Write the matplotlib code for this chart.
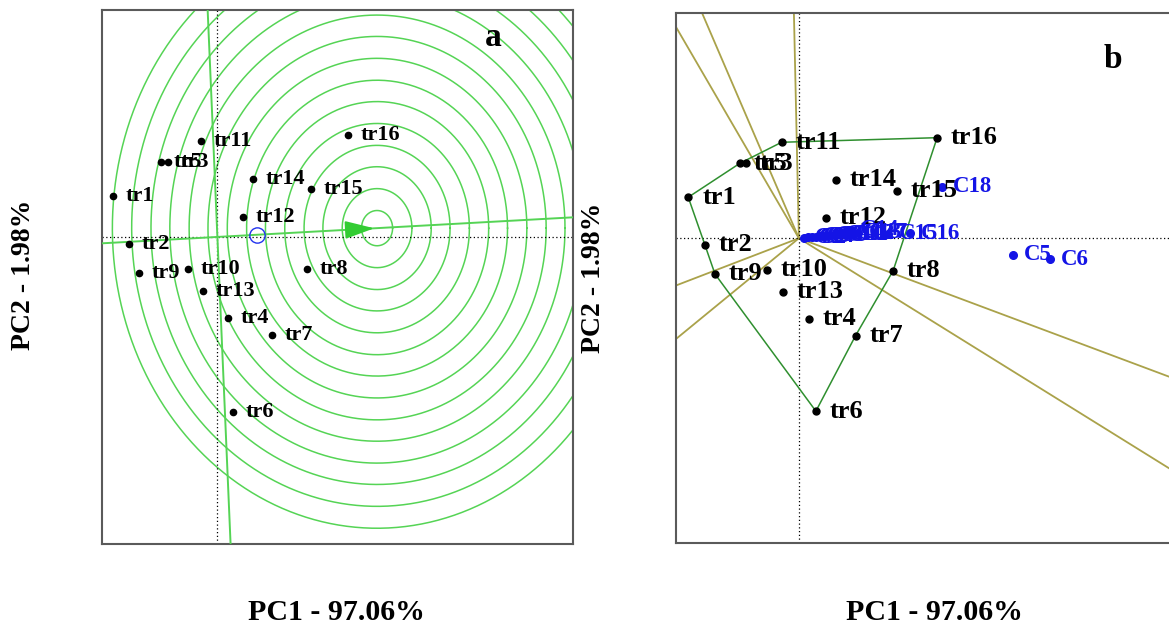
import numpy as np
import matplotlib.pyplot as plt

plt.rcParams['font.family'] = ['Liberation Serif', 'DejaVu Serif']
plt.rcParams['font.weight'] = 'bold'

# genotype scores
genotypes = ['tr1', 'tr2', 'tr3', 'tr4', 'tr5', 'tr6', 'tr7', 'tr8',
             'tr9', 'tr10', 'tr11', 'tr12', 'tr13', 'tr14', 'tr15', 'tr16']
pc1_a = [-22.12, -18.79, -10.45, 2.17, -12.0, 3.35, 11.51, 18.94,
         -16.67, -6.33, -3.57, 5.48, -3.01, 7.60, 19.79, 27.77]
pc2_a = [7.73, -1.37, 14.10, -15.22, 14.10, -32.72, -18.35, -6.05,
         -6.80, -5.99, 18.03, 3.80, -10.06, 10.92, 8.93, 19.10]
pc1_b = [-23.50, -19.96, -11.25, 2.12, -12.53, 3.61, 12.04, 20.02,
         -17.83, -6.73, -3.67, 5.73, -3.46, 7.86, 20.74, 29.36]
pc2_b = [7.68, -1.25, 14.04, -15.11, 14.04, -32.40, -18.24, -6.07,
         -6.69, -5.94, 17.98, 3.86, -10.0, 10.92, 8.86, 18.84]

# environments (panel b)
envs = ['C1', 'C2', 'C3', 'C4', 'C5', 'C6', 'C7', 'C8', 'C9',
        'C10', 'C11', 'C12', 'C13', 'C14', 'C15', 'C16', 'C17', 'C18']
env_pc1 = [1.06, 1.91, 2.76, 3.61, 45.50, 53.29, 4.46, 5.52, 6.58,
           7.64, 8.70, 9.77, 11.25, 10.62, 18.90, 23.57, 12.53, 30.30]
env_pc2 = [0.09, 0.15, 0.24, 0.28, -3.13, -3.93, 0.34, 0.43, 0.52,
           0.62, 0.71, 0.81, 0.99, 1.55, 0.81, 0.94, 0.99, 9.66]

# panel a: average environment, ideal genotype and rings
avg_env = (8.45, 0.37)
ideal = (33.9, 1.65)
ring_radii = [3.3, 7.4, 11.5, 15.5, 19.6, 23.7, 27.7, 31.8,
              35.9, 39.9, 44.0, 48.0, 52.1, 56.2]

# panel b: polygon vertices and sector rays
hull = ['tr1', 'tr5', 'tr11', 'tr16', 'tr8', 'tr7', 'tr6', 'tr9', 'tr2']
ray_x = [-25.97, -20.53, -1.06, -26.33, -26.33, 78.56, 78.56]
ray_y = [39.38, 42.13, 42.19, -8.93, -19.04, -25.92, -43.07]

xlim_a, ylim_a = (-24.5, 75.5), (-57.5, 42.5)
xlim_b, ylim_b = (-26.1, 82.0), (-57.1, 42.2)

green = '#55d455'
W, H = 1169, 629
fig = plt.figure(figsize=(W / 100, H / 100), dpi=100)
ax_a = fig.add_axes([102 / W, 1 - 544 / H, 471 / W, 534 / H])
ax_b = fig.add_axes([676 / W, 1 - 543 / H, 509 / W, 530 / H])

for ax, xl, yl in [(ax_a, xlim_a, ylim_a), (ax_b, xlim_b, ylim_b)]:
    ax.set_xlim(xl)
    ax.set_ylim(yl)
    ax.set_xticks([])
    ax.set_yticks([])
    for s in ax.spines.values():
        s.set_color('#5a5a5a')
        s.set_linewidth(1.5)
    ax.axhline(0, color='black', ls=(0, (1, 2)), lw=0.9, zorder=2)
    ax.axvline(0, color='black', ls=(0, (1, 2)), lw=0.9, zorder=2)

# ---- panel a ----
t = np.linspace(0, 2 * np.pi, 400)
for r in ring_radii:
    ax_a.plot(ideal[0] + r * np.cos(t), ideal[1] + r * np.sin(t),
              color=green, lw=1.1, zorder=1)
slope = ideal[1] / ideal[0]
xs = np.array(xlim_a)
ax_a.plot(xs, slope * xs, color=green, lw=1.4, zorder=3)
tt = np.array([-200, 200])
ax_a.plot(-ideal[1] * tt / 10, ideal[0] * tt / 10, color=green, lw=1.4, zorder=3)
ax_a.annotate('', xy=ideal, xytext=(ideal[0] - 6, ideal[1] - 6 * slope),
              arrowprops=dict(arrowstyle='-|>,head_length=1.8,head_width=0.55',
                              color='#33cc33', lw=1.4), zorder=4)
ax_a.plot(*avg_env, 'o', mfc='none', mec='#2233ee', ms=11, mew=1.0, zorder=4)

ax_a.plot(pc1_a, pc2_a, 'o', color='black', ms=4.5, zorder=5)
for g, x, y in zip(genotypes, pc1_a, pc2_a):
    ax_a.annotate(g, (x, y), xytext=(9, 0), textcoords='offset points',
                  va='center', ha='left', fontsize=16, zorder=6)
ax_a.text(493, H - 38, 'a', transform=None, fontsize=24,
          ha='center', va='center')

# ---- panel b ----
for x, y in zip(ray_x, ray_y):
    ax_b.plot([0, x * 1.2], [0, y * 1.2], color='#aaa24a', lw=1.3, zorder=1)
idx = [genotypes.index(g) for g in hull] + [genotypes.index(hull[0])]
ax_b.plot([pc1_b[i] for i in idx], [pc2_b[i] for i in idx],
          color='#2f8f2f', lw=1.1, zorder=3)

ax_b.plot(pc1_b, pc2_b, 'o', color='black', ms=5, zorder=5)
for g, x, y in zip(genotypes, pc1_b, pc2_b):
    ax_b.annotate(g, (x, y), xytext=(10, 0), textcoords='offset points',
                  va='center', ha='left', fontsize=19, zorder=6)

blue = '#1414e6'
ax_b.plot(env_pc1, env_pc2, 'o', color=blue, ms=5.5, zorder=5)
for e, x, y in zip(envs, env_pc1, env_pc2):
    ax_b.annotate(e, (x, y), xytext=(8, 0), textcoords='offset points',
                  va='center', ha='left', fontsize=16.5, color=blue, zorder=6)
ax_b.text(1113, H - 60, 'b', transform=None, fontsize=24, ha='center', va='center')

# axis titles
fig.text(336 / W, 1 - 613 / H, 'PC1 - 97.06%', fontsize=21.5, ha='center', va='center')
fig.text(934 / W, 1 - 613 / H, 'PC1 - 97.06%', fontsize=21.5, ha='center', va='center')
fig.text(24 / W, 1 - 275 / H, 'PC2 - 1.98%', fontsize=20, rotation=90,
         ha='center', va='center')
fig.text(594 / W, 1 - 278 / H, 'PC2 - 1.98%', fontsize=20, rotation=90,
         ha='center', va='center')

fig.savefig('out.png', dpi=100)
